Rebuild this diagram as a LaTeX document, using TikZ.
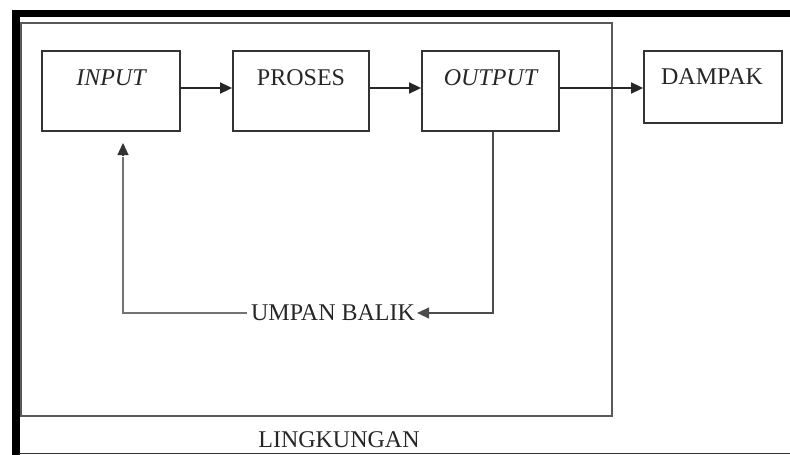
\documentclass[tikz,border=0pt]{standalone}
\usepackage{fontspec}
\setmainfont{Liberation Serif}
\usetikzlibrary{arrows.meta}
\begin{document}
\begin{tikzpicture}[x=1pt,y=-1pt,
  box/.style={draw=black!80,line width=1.8pt,inner sep=0pt},
  lbl/.style={anchor=base,inner sep=0pt,font=\fontsize{24}{26}\selectfont,text=black!85},
  tip/.style={-{Triangle[length=12pt,width=11pt]}},
  flow/.style={draw=black!85,line width=1.7pt,tip},
  fb/.style={draw=black!55,line width=1.2pt},
  fbarrow/.style={fb,tip,draw=black!70}]
\useasboundingbox (0,0) rectangle (790,455);
% outer frame
\fill[black] (12,10) rectangle (790,17);
\fill[black] (12,10) rectangle (20,455);
\draw[black!80,line width=1.5pt] (19,453.3) -- (790,453.3);
% environment box
\draw[black!65,line width=1.7pt] (21,23) rectangle (612,416);
\node[lbl] (lingkungan) at (339,447) {LINGKUNGAN};
% boxes
\node[box,minimum width=138pt,minimum height=80pt] (input) at (111,91) {};
\node[box,minimum width=136pt,minimum height=80pt] (proses) at (301,91) {};
\node[box,minimum width=137pt,minimum height=80pt] (output) at (490.5,91) {};
\node[box,minimum width=138pt,minimum height=72pt] (dampak) at (713,87) {};
\node[lbl] (tin) at (111,85) {\itshape INPUT};
\node[lbl] (tpr) at (301,85) {PROSES};
\node[lbl] (tout) at (490.5,85) {\itshape OUTPUT};
\node[lbl] (tdam) at (712,84) {DAMPAK};
% flows
\draw[flow] (input.east |- 0,88) -- (proses.west |- 0,88);
\draw[flow] (proses.east |- 0,88) -- (output.west |- 0,88);
\draw[flow] (output.east |- 0,88) -- (dampak.west |- 0,88);
% feedback
\node[lbl] (ub) at (333,320) {UMPAN BALIK};
\coordinate (fbr) at ([xshift=2pt]ub.east |- 0,313);
\coordinate (fbl) at ([xshift=-4pt]ub.west |- 0,313);
\coordinate (fbtip) at (123,143);
\draw[fbarrow] (output.south -| 493,0) |- (fbr);
\draw[fb] (fbl) -| (123,157);
\draw[fbarrow,draw=black!80] (123,155) -- (fbtip);
\end{tikzpicture}
\end{document}
